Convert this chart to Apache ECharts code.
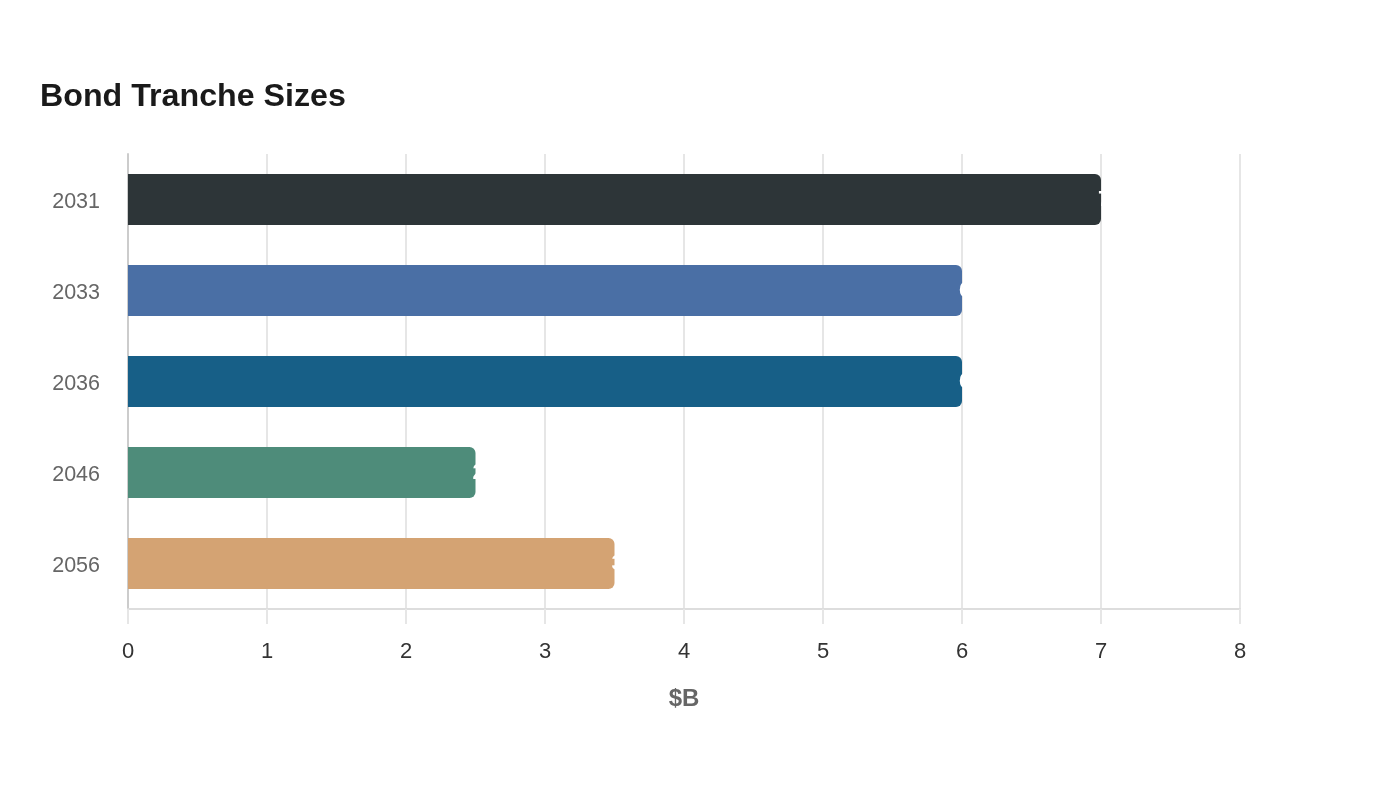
<!DOCTYPE html>
<html>
<head>
<meta charset="utf-8">
<script src="https://cdn.jsdelivr.net/npm/echarts@6/dist/echarts.min.js"></script>
<style>html,body{margin:0;padding:0;background:#fff;}#c{width:1400px;height:800px;}</style>
</head>
<body>
<div id="c"></div>
<script>
const categories = ['2031', '2033', '2036', '2046', '2056'];
const values = [7, 6, 6, 2.5, 3.5];
const colors = ['#2d3538', '#4a6fa5', '#175f87', '#4e8c7a', '#d4a373'];
const xTicks = [0, 1, 2, 3, 4, 5, 6, 7, 8];

const chart = echarts.init(document.getElementById('c'), null, {renderer: 'canvas'});
chart.setOption({
  backgroundColor: '#ffffff',
  animation: false,
  title: {
    text: 'Bond Tranche Sizes',
    left: 35, top: 76,
    textStyle: {fontFamily: 'Liberation Sans', fontSize: 32.2, fontWeight: 'bold', color: '#1a1a1a'}
  },
  grid: {left: 128, right: 160, top: 154, bottom: 191, containLabel: false},
  xAxis: {
    type: 'value', min: xTicks[0], max: xTicks[xTicks.length - 1], interval: 1,
    name: '$B', nameLocation: 'middle', nameGap: 78,
    nameTextStyle: {fontFamily: 'Liberation Sans', fontSize: 24, fontWeight: 'bold', color: '#666'},
    axisLine: {show: true, lineStyle: {color: '#dddddd', width: 2}},
    axisTick: {show: true, length: 15, lineStyle: {color: '#e6e6e6', width: 2}},
    axisLabel: {fontFamily: 'Liberation Sans', fontSize: 22, color: '#333', margin: 32},
    splitLine: {show: true, lineStyle: {color: '#e6e6e6', width: 2}}
  },
  yAxis: {
    type: 'category', data: categories, inverse: true,
    axisLine: {show: true, lineStyle: {color: '#cccccc', width: 2}},
    axisTick: {show: false},
    axisLabel: {
      margin: 28,
      formatter: '{sp|}\n{a|{value}}',
      rich: {
        sp: {height: 6, lineHeight: 6, fontSize: 1},
        a: {fontFamily: 'Liberation Sans', fontSize: 21.5, color: '#666', lineHeight: 26}
      }
    },
    splitLine: {show: false}
  },
  series: [{
    type: 'bar',
    data: values.map((v, i) => ({value: v, itemStyle: {color: colors[i]}})),
    barWidth: 51,
    itemStyle: {borderRadius: [0, 6, 6, 0]},
    label: {
      show: true, position: 'right', distance: -3,
      color: '#ffffff', fontFamily: 'Liberation Sans', fontSize: 22, fontWeight: 'bold'
    }
  }]
});
</script>
</body>
</html>
